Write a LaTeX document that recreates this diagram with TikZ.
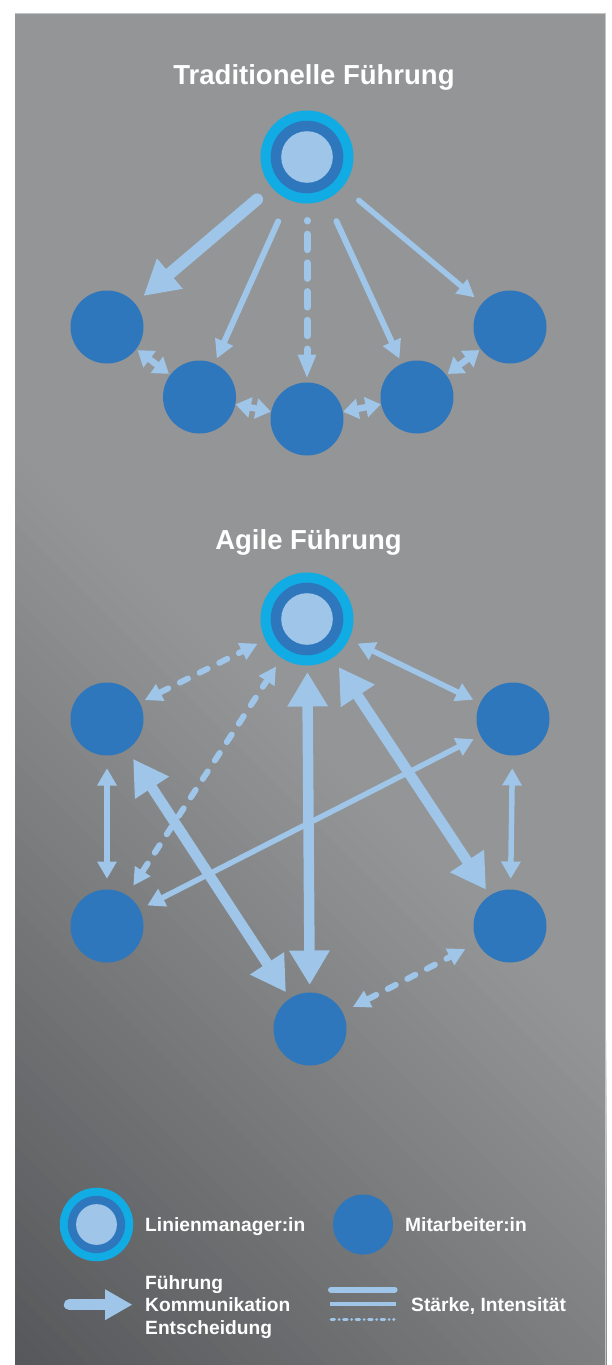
\documentclass[tikz,border=0pt]{standalone}
\usepackage{fontspec}
\setmainfont{Liberation Sans}
\usetikzlibrary{arrows.meta}

\definecolor{pbase}{HTML}{939596}
\definecolor{pdark}{HTML}{56575A}
\definecolor{pedge}{HTML}{C4C6C7}
\definecolor{mcyan}{HTML}{10ACE3}
\definecolor{mring}{HTML}{2E77BC}
\definecolor{lb}{HTML}{9FC5E8}
\definecolor{emp}{HTML}{2F77BD}

\tikzset{
  mgr/.style={circle, inner sep=0pt, outer sep=0pt, minimum size=#1*93pt, fill=mcyan,
    path picture={
      \fill[mring] (path picture bounding box.center) circle[radius=#1*36.3pt];
      \fill[lb] (path picture bounding box.center) circle[radius=#1*25.8pt];}},
  mgr/.default=1,
  empl/.style={circle, inner sep=0pt, outer sep=0pt, minimum size=#1, fill=emp},
  empl/.default=73pt,
  conn/.style={draw=lb, line cap=round},
  oneway/.style 2 args={arrows={-{Triangle[length=#1,width=#2,line width=0pt]}}},
  twoway/.style 2 args={arrows={{Triangle[length=#1,width=#2,line width=0pt]}-{Triangle[length=#1,width=#2,line width=0pt]}}},
  ttl/.style={text=white, inner sep=0pt, anchor=base, font=\fontsize{27.5pt}{33pt}\selectfont\bfseries},
  lgd/.style={text=white, inner sep=0pt, anchor=base west, font=\fontsize{19.2pt}{23pt}\selectfont\bfseries},
  % connector weights
  wfat/.style={conn, line width=10.5pt, twoway={34pt}{41pt}},
  wsmall/.style={conn, line width=5.5pt, twoway={17pt}{20pt}},
  wdash/.style={conn, line width=6pt, twoway={17pt}{19pt}, dash pattern=on 9pt off 13pt},
  wtiny/.style={conn, line width=6.5pt, twoway={15pt}{21pt}},
}

\begin{document}
\begin{tikzpicture}[x=1pt, y=-1pt]
\useasboundingbox (0,0) rectangle (611,1365);
\fill[white] (0,0) rectangle (611,1365);

% panel with diagonal darkening towards the lower left
\begin{scope}
  \clip (15,13) rectangle (606,1365);
  \fill[pbase] (15,13) rectangle (606,1365);
  \foreach \i in {0,...,49}{
    \pgfmathsetmacro\sv{435+\i*18.3}
    \pgfmathtruncatemacro\pp{round((\i+0.5)*2)}
    \fill[pdark!\pp!pbase] (-100,\sv-100) -- (800,\sv+800) -- (800,2500) -- (-100,2500) -- cycle;
  }
\end{scope}
\draw[pedge, line width=0.8pt] (15,13.4) -- (605.6,13.4) -- (605.6,1365);

% ---------- traditional leadership ----------
\node[ttl] (title1) at (314,84) {Traditionelle Führung};

\node[mgr] (M1) at (307,157) {};
\node[empl] (TL1) at (107,327) {};
\node[empl] (TL2) at (199.5,397) {};
\node[empl] (TC)  at (307,419) {};
\node[empl] (TR2) at (417,397) {};
\node[empl] (TR1) at (510,327) {};

\draw[conn, line width=12pt, oneway={34pt}{40pt}, shorten <=19pt, shorten >=12pt] (M1) -- (TL1);
\draw[conn, line width=6pt, oneway={18pt}{20pt}, shorten <=24pt, shorten >=6pt] (M1) -- (TL2);
\draw[conn, line width=7pt, oneway={23pt}{19pt}, shorten <=17pt, shorten >=5pt,
      dash pattern=on 15.5pt off 13.2pt, dash phase=15pt] (M1) -- (TC);
\draw[conn, line width=6pt, oneway={18pt}{20pt}, shorten <=24pt, shorten >=6pt] (M1) -- (TR2);
\draw[conn, line width=5.5pt, oneway={17pt}{19pt}, shorten <=21pt, shorten >=10pt] (M1) -- (TR1);

\draw[wtiny, shorten <=2pt, shorten >=2pt] (TL1) -- (TL2);
\draw[wtiny, shorten <=0.5pt, shorten >=0.5pt] (TL2) -- (TC);
\draw[wtiny, shorten <=0.5pt, shorten >=0.5pt] (TC) -- (TR2);
\draw[wtiny, shorten <=2pt, shorten >=2pt] (TR2) -- (TR1);

% ---------- agile leadership ----------
\node[ttl] (title2) at (308.5,549) {Agile Führung};

\node[mgr] (M2) at (307,619) {};
\node[empl] (AL1) at (107,719) {};
\node[empl] (AR1) at (513,719) {};
\node[empl] (AL2) at (107,926) {};
\node[empl] (AR2) at (510,926) {};
\node[empl] (AB)  at (310,1029) {};

\draw[wdash, shorten <=6pt, shorten >=9pt] (AL1) -- (M2);
\draw[wdash, shorten <=12pt, shorten >=10.5pt] (AL2) -- (M2);
\draw[wdash, shorten <=12pt, shorten >=14pt] (AB) -- (AR2);

\draw[wsmall, shorten <=13pt, shorten >=11pt] (AL1) -- (AL2);
\draw[wsmall, shorten <=13pt, shorten >=11pt] (AR1) -- (AR2);
\draw[wsmall, shorten <=10pt, shorten >=8pt] (M2) -- (AR1);
\draw[wsmall, shorten <=9pt, shorten >=8pt] (AL2) -- (AR1);

\draw[wfat, shorten <=7pt, shorten >=8pt] (M2) -- (AB);
\draw[wfat, shorten <=11.7pt, shorten >=7.5pt] (M2) -- (AR2);
\draw[wfat, shorten <=11.7pt, shorten >=8pt] (AL1) -- (AB);

% ---------- legend ----------
\node[mgr=0.79] (LM) at (96.5,1224.5) {};
\node[lgd] (LMt) at (145,1231) {Linienmanager:in};
\node[empl=60pt] (LE) at (363,1224.5) {};
\node[lgd] (LEt) at (405,1231) {Mitarbeiter:in};

\coordinate (la1) at (69.2,1304.7);
\coordinate (la2) at (132,1304.7);
\draw[conn, line width=10.7pt, oneway={27pt}{31pt}] (la1) -- (la2);
\node[lgd] (LA1) at (145,1289.3) {Führung};
\node[lgd] (LA2) at (145,1311.7) {Kommunikation};
\node[lgd] (LA3) at (145,1334.3) {Entscheidung};

\coordinate (ls1a) at (331,1289.7);
\coordinate (ls1b) at (394.6,1289.7);
\coordinate (ls2a) at (330,1304);
\coordinate (ls2b) at (396,1304);
\coordinate (ls3a) at (331,1319.3);
\coordinate (ls3b) at (394,1319.3);
\draw[conn, line width=6pt] (ls1a) -- (ls1b);
\draw[draw=lb, line width=3.3pt] (ls2a) -- (ls2b);
\draw[conn, line width=3pt, dash pattern=on 3.5pt off 4.5pt on 0.01pt off 4.5pt] (ls3a) -- (ls3b);
\node[lgd] (LSt) at (411,1311.7) {Stärke, Intensität};
\end{tikzpicture}
\end{document}
